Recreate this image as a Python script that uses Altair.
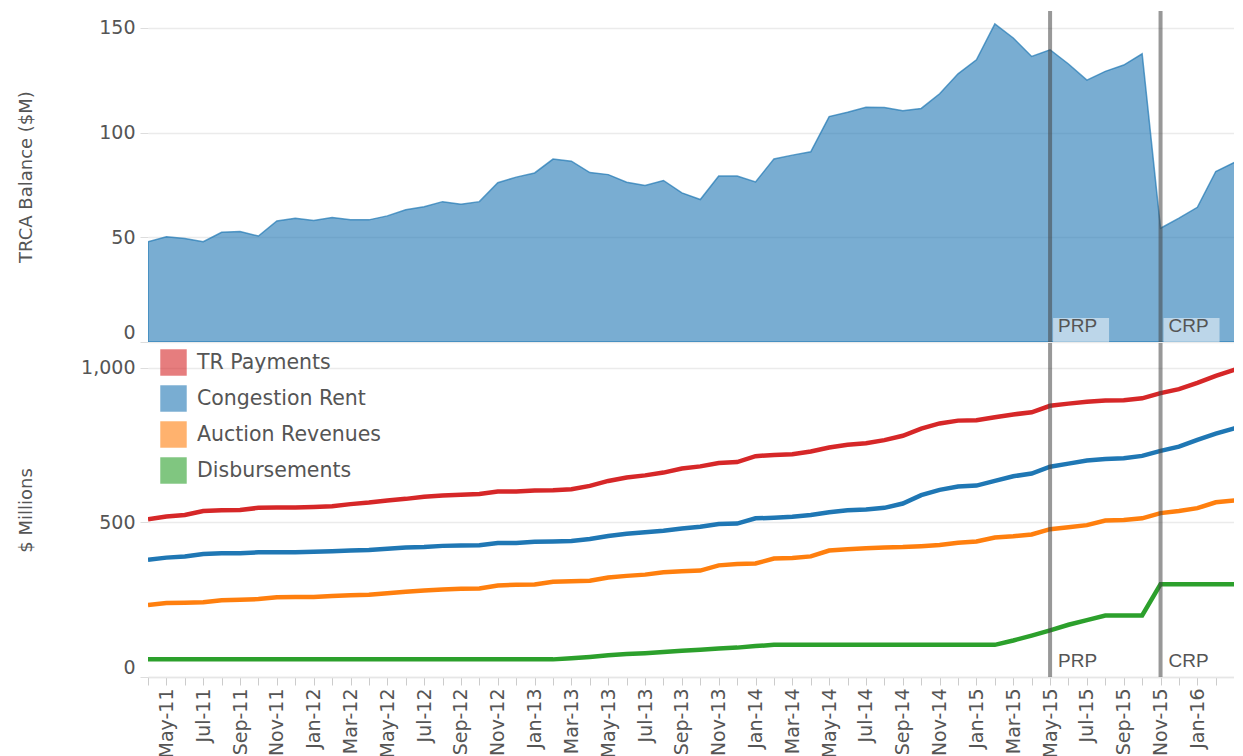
import altair as alt
import pandas as pd

# ---------------- data ----------------
months = ["Apr-11", "May-11", "Jun-11", "Jul-11", "Aug-11", "Sep-11", "Oct-11", "Nov-11", "Dec-11",
          "Jan-12", "Feb-12", "Mar-12", "Apr-12", "May-12", "Jun-12", "Jul-12", "Aug-12", "Sep-12",
          "Oct-12", "Nov-12", "Dec-12", "Jan-13", "Feb-13", "Mar-13", "Apr-13", "May-13", "Jun-13",
          "Jul-13", "Aug-13", "Sep-13", "Oct-13", "Nov-13", "Dec-13", "Jan-14", "Feb-14", "Mar-14",
          "Apr-14", "May-14", "Jun-14", "Jul-14", "Aug-14", "Sep-14", "Oct-14", "Nov-14", "Dec-14",
          "Jan-15", "Feb-15", "Mar-15", "Apr-15", "May-15", "Jun-15", "Jul-15", "Aug-15", "Sep-15",
          "Oct-15", "Nov-15", "Dec-15", "Jan-16", "Feb-16", "Mar-16", "Apr-16"]

trca_balance = [47.9, 50.2, 49.4, 47.9, 52.4, 52.7, 50.6, 57.8, 59.1, 58.0, 59.4, 58.3, 58.3, 60.2, 63.1,
                64.6, 67.0, 65.8, 67.0, 76.0, 78.7, 80.7, 87.3, 86.3, 80.9, 79.9, 76.3, 74.7, 77.1, 71.2,
                68.0, 79.2, 79.2, 76.4, 87.4, 89.2, 90.8, 107.6, 109.7, 112.1, 111.9, 110.4, 111.5, 118.5,
                128.0, 134.7, 151.8, 145.1, 136.3, 139.5, 132.7, 125.0, 129.2, 132.2, 137.6, 54.3, 59.1,
                64.3, 81.4, 85.7, 85.7]

tr_payments = [510, 519, 524, 537, 539, 540, 547, 548, 548, 550, 552, 559, 564, 571, 576,
               583, 587, 589, 592, 600, 600, 603, 604, 607, 618, 634, 645, 652, 661, 674,
               681, 692, 695, 714, 718, 720, 729, 742, 751, 756, 766, 780, 803, 820, 829,
               830, 840, 849, 856, 877, 884, 890, 894, 895, 901, 918, 931, 951, 974, 993, 1012]

congestion_rent = [379, 386, 390, 398, 400, 400, 403, 403, 403, 405, 407, 409, 411, 415, 419,
                   420, 424, 425, 426, 433, 433, 437, 438, 440, 446, 456, 463, 468, 473, 480,
                   486, 495, 496, 513, 515, 518, 524, 533, 539, 542, 547, 561, 588, 605, 616,
                   619, 634, 649, 658, 680, 690, 700, 705, 707, 715, 731, 745, 767, 787, 804, 813]

auction_revenues = [233, 239, 240, 242, 248, 250, 252, 258, 259, 259, 262, 264, 266, 271, 276,
                    280, 283, 285, 286, 296, 298, 299, 308, 310, 311, 322, 327, 331, 339, 342,
                    344, 361, 365, 367, 383, 385, 390, 409, 413, 416, 419, 420, 423, 427, 434,
                    438, 451, 455, 461, 478, 484, 491, 506, 508, 513, 530, 537, 546, 565, 571, 574]

disbursements = [57, 57, 57, 57, 57, 57, 57, 57, 57, 57, 57, 57, 57, 57, 57,
                 57, 57, 57, 57, 57, 57, 57, 57, 61, 65, 70, 74, 77, 81, 85,
                 88, 92, 95, 100, 104, 104, 104, 104, 104, 104, 104, 104, 104, 104, 104,
                 104, 104, 118, 134, 151, 169, 184, 199, 199, 199, 300, 300, 300, 300, 300, 300]

series_names = ["TR Payments", "Congestion Rent", "Auction Revenues", "Disbursements"]
series_colors = ["#d62728", "#1f77b4", "#ff7f0e", "#2ca02c"]

event_labels = ["PRP", "CRP"]
event_months = ["May-15", "Nov-15"]

# ---------------- tables ----------------
idx = list(range(len(months)))
df_top = pd.DataFrame({"idx": idx, "month": months, "trca": trca_balance})
series_values = [tr_payments, congestion_rent, auction_revenues, disbursements]
rows = []
for name, vals in zip(series_names, series_values):
    for i, v in enumerate(vals):
        rows.append({"idx": i, "month": months[i], "series": name, "value": v})
df_bot = pd.DataFrame(rows)
df_ev = pd.DataFrame({"idx": [months.index(m) for m in event_months], "label": event_labels})

# ---------------- layout ----------------
W = 1086
H_TOP = 331
H_BOT = 334
FONT = "DejaVu Sans"
GREY = "#555555"

xscale = alt.Scale(domain=[0, 58.99], nice=False, zero=False)
tick_vals = list(range(0, 60))
label_expr = "".join(
    f"datum.value == {i} ? '{months[i]}' : " for i in tick_vals if i % 2 == 1
) + "''"

y_axis_common = dict(
    labelFont=FONT, labelFontSize=19, labelColor=GREY, labelPadding=5,
    tickSize=8, tickColor="#dddddd", domain=False,
    gridColor="#ebebeb", gridWidth=1.5, labelFlush=True,
    titleFont=FONT, titleFontSize=18, titleFontWeight="normal", titleColor=GREY,
    titleX=-117, titleBaseline="alphabetic", titleAngle=270,
)

color_scale = alt.Scale(domain=series_names, range=series_colors)


def event_bars(h):
    return alt.Chart(df_ev).mark_rect(color="#444444", opacity=0.55, xOffset=-2, x2Offset=2).encode(
        x=alt.X("idx:Q", scale=xscale), x2="idx:Q", y=alt.value(0), y2=alt.value(h)
    )


# ---- top panel ----
area = alt.Chart(df_top).mark_area(
    color="#1f77b4", fillOpacity=0.6, stroke="#1f77b4", strokeOpacity=0.7,
    strokeWidth=1.5, clip=True
).encode(
    x=alt.X("idx:Q", scale=xscale, axis=None),
    y=alt.Y("trca:Q", scale=alt.Scale(domain=[0, 158], nice=False),
            axis=alt.Axis(values=[0, 50, 100, 150], title="TRCA Balance ($M)", **y_axis_common)),
)

boxes_top = alt.Chart(df_ev).mark_rect(color="white", opacity=0.5, xOffset=3, x2Offset=59).encode(
    x=alt.X("idx:Q", scale=xscale), x2="idx:Q", y=alt.value(H_TOP - 24), y2=alt.value(H_TOP)
)
text_top = alt.Chart(df_ev).mark_text(
    align="left", baseline="alphabetic", dx=8, font="Liberation Sans", fontSize=19, color=GREY
).encode(x=alt.X("idx:Q", scale=xscale), y=alt.value(H_TOP - 10), text="label:N")

top = alt.layer(area, event_bars(H_TOP), boxes_top, text_top).properties(width=W, height=H_TOP)

# ---- bottom panel ----
x_bot = alt.X("idx:Q", scale=xscale, title=None,
              axis=alt.Axis(values=tick_vals, tickCount=200, labelExpr=label_expr, labelAngle=270,
                            labelAlign="right", labelBaseline="middle",
                            labelFont=FONT, labelFontSize=19, labelColor=GREY, labelPadding=3,
                            tickSize=8, tickColor="#cccccc", domainColor="#e6e6e6", domainWidth=1.5,
                            grid=False, labelFlush=False, labelOverlap=False))
y_bot = alt.Y("value:Q", scale=alt.Scale(domain=[0, 1080], nice=False),
              axis=alt.Axis(values=[0, 500, 1000], format=",d", title="$ Millions", **y_axis_common))

# small filled squares under the lines: they carry the colour legend (filled swatches)
swatch_layer = alt.Chart(df_bot).mark_square(size=2, filled=True, clip=True).encode(
    x=x_bot, y=y_bot,
    color=alt.Color("series:N", scale=color_scale,
                    legend=alt.Legend(orient="none", legendX=12, legendY=338, title=None,
                                      symbolType="square", symbolSize=700, symbolStrokeWidth=0,
                                      symbolOpacity=0.6, labelFont=FONT, labelFontSize=20.5,
                                      labelColor=GREY, rowPadding=9, labelOffset=10, padding=0,
                                      labelLimit=400)),
)

lines = alt.Chart(df_bot).mark_line(strokeWidth=4.5, clip=True).encode(
    x=x_bot, y=y_bot,
    color=alt.Color("series:N", scale=color_scale, legend=None),
)

text_bot = alt.Chart(df_ev).mark_text(
    align="left", baseline="alphabetic", dx=8, font="Liberation Sans", fontSize=19, color=GREY
).encode(x=alt.X("idx:Q", scale=xscale), y=alt.value(H_BOT - 10), text="label:N")

bottom = alt.layer(swatch_layer, lines, event_bars(H_BOT), text_bot).properties(width=W, height=H_BOT)

chart = alt.vconcat(top, bottom, spacing=0).properties(
    padding={"left": 9, "top": 3, "right": 0, "bottom": 0}
).configure_view(stroke=None)

chart.save("out.html", embed_options={"renderer": "svg", "actions": False})
